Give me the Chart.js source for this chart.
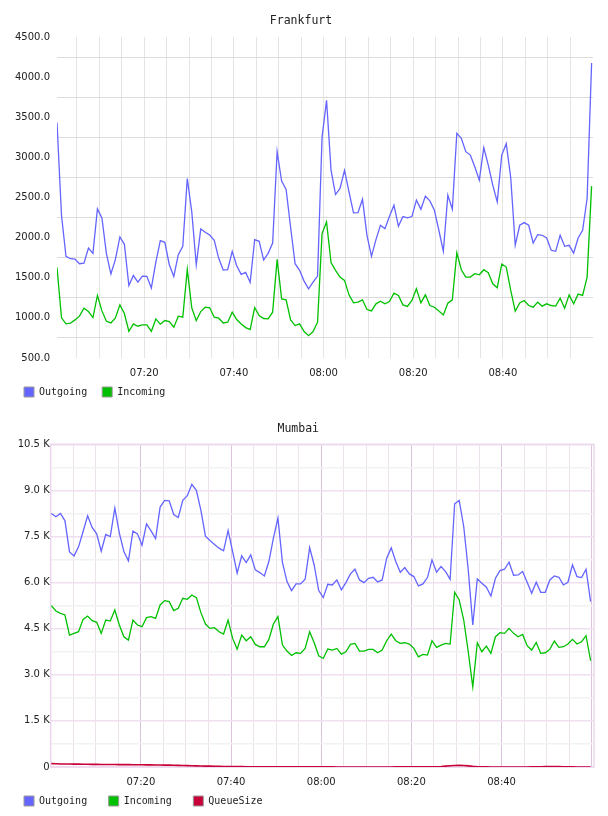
<!DOCTYPE html>
<html>
<head>
<meta charset="utf-8">
<script src="https://cdn.jsdelivr.net/npm/chart.js@4.4.1/dist/chart.umd.min.js"></script>
<style>
  body { margin: 0; background: #fff; }
  .box { position: absolute; left: 0; width: 608px; }
  #fraBox { top: 0; height: 407px; }
  #bomBox { top: 408px; height: 408px; }
</style>
</head>
<body>
<div class="box" id="fraBox"><canvas id="frankfurtChart"></canvas></div>
<div class="box" id="bomBox"><canvas id="mumbaiChart"></canvas></div>
<script>
// one sample per minute, starting just after 07:00
const fraOutgoing = [
  3433, 2279, 1767, 1737, 1733, 1675, 1683, 1871, 1804, 2358,
  2246, 1800, 1546, 1729, 2008, 1917, 1404, 1529, 1446, 1521,
  1517, 1371, 1696, 1963, 1942, 1662, 1517, 1788, 1892, 2737,
  2321, 1662, 2108, 2067, 2033, 1967, 1742, 1596, 1600, 1829,
  1650, 1542, 1567, 1442, 1975, 1954, 1721, 1804, 1933, 3071,
  2704, 2600, 2129, 1675, 1592, 1458, 1362, 1446, 1521, 3250,
  3712, 2842, 2537, 2612, 2837, 2571, 2308, 2312, 2479, 2029,
  1767, 1975, 2154, 2112, 2262, 2404, 2142, 2262, 2246, 2262,
  2467, 2354, 2517, 2458, 2342, 2092, 1829, 2529, 2354, 3300,
  3237, 3071, 3029, 2883, 2717, 3121, 2904, 2654, 2446, 3029,
  3171, 2746, 1904, 2154, 2187, 2154, 1933, 2037, 2029, 1996,
  1842, 1829, 2029, 1892, 1904, 1808, 1996, 2092, 2487, 4175
];
const fraIncoming = [
  1629, 1000, 925, 933, 975, 1021, 1121, 1079, 1004, 1279,
  1087, 958, 937, 1000, 1162, 1054, 833, 925, 896, 912,
  912, 833, 987, 921, 967, 954, 883, 1021, 1008, 1604,
  1125, 967, 1079, 1133, 1125, 1008, 996, 937, 946, 1071,
  979, 925, 879, 854, 1129, 1029, 992, 987, 1071, 1729,
  1237, 1225, 975, 904, 925, 829, 779, 829, 946, 2050,
  2196, 1688, 1592, 1508, 1467, 1287, 1187, 1196, 1225, 1104,
  1087, 1175, 1208, 1175, 1204, 1308, 1279, 1162, 1142, 1217,
  1362, 1187, 1287, 1154, 1133, 1087, 1037, 1183, 1225, 1812,
  1600, 1508, 1508, 1550, 1537, 1600, 1562, 1425, 1375, 1671,
  1633, 1342, 1083, 1187, 1217, 1154, 1133, 1196, 1146, 1175,
  1154, 1146, 1246, 1121, 1287, 1175, 1296, 1279, 1508, 2642
];
const bomOutgoing = [
  8250, 8141, 8250, 8011, 7000, 6869, 7163, 7663, 8174, 7793,
  7587, 7022, 7565, 7500, 8424, 7609, 7011, 6706, 7674, 7587,
  7217, 7913, 7685, 7435, 8457, 8674, 8663, 8217, 8120, 8674,
  8826, 9196, 9000, 8348, 7511, 7370, 7239, 7120, 7033, 7696,
  7011, 6304, 6869, 6652, 6902, 6413, 6326, 6217, 6685, 7446,
  8098, 6652, 6033, 5739, 5957, 5957, 6109, 7141, 6565, 5739,
  5511, 5946, 5924, 6087, 5761, 6000, 6283, 6435, 6087, 6000,
  6141, 6174, 6022, 6087, 6793, 7130, 6685, 6337, 6489, 6283,
  6196, 5891, 5957, 6163, 6739, 6337, 6522, 6359, 6109, 8565,
  8674, 7826, 6413, 4619, 6120, 5978, 5848, 5565, 6141, 6391,
  6435, 6663, 6239, 6250, 6359, 6011, 5652, 6011, 5685, 5685,
  6087, 6217, 6174, 5924, 6011, 6576, 6196, 6163, 6435, 5380
];
const bomIncoming = [
  5250, 5076, 5000, 4946, 4293, 4348, 4402, 4804, 4913, 4761,
  4707, 4348, 4783, 4750, 5109, 4620, 4239, 4130, 4783, 4620,
  4565, 4859, 4891, 4837, 5272, 5413, 5380, 5087, 5163, 5489,
  5457, 5598, 5511, 5022, 4652, 4511, 4533, 4402, 4326, 4783,
  4185, 3837, 4293, 4109, 4239, 3989, 3913, 3913, 4152, 4652,
  4891, 3967, 3772, 3630, 3717, 3696, 3859, 4402, 4043, 3620,
  3532, 3837, 3804, 3859, 3674, 3750, 3989, 4022, 3772, 3772,
  3826, 3826, 3717, 3804, 4109, 4326, 4109, 4022, 4043, 4000,
  3859, 3587, 3663, 3641, 4109, 3891, 3967, 4022, 4000, 5685,
  5435, 4783, 3750, 2609, 4043, 3750, 3935, 3696, 4239, 4370,
  4348, 4511, 4348, 4239, 4315, 3946, 3804, 4054, 3696, 3717,
  3826, 4098, 3891, 3913, 4000, 4152, 4000, 4076, 4272, 3457
];
const bomQueueSize = [
  110, 105, 100, 98, 96, 94, 92, 90, 88, 86,
  85, 83, 82, 80, 79, 78, 77, 76, 75, 74,
  72, 70, 68, 66, 64, 62, 60, 57, 54, 50,
  46, 42, 38, 34, 30, 27, 24, 21, 18, 16,
  14, 12, 11, 10, 9, 8, 8, 7, 7, 6,
  6, 5, 5, 5, 4, 4, 4, 4, 3, 3,
  3, 3, 3, 2, 2, 2, 2, 2, 2, 2,
  2, 2, 2, 2, 2, 2, 3, 4, 6, 8,
  3, 3, 3, 4, 5, 8, 15, 28, 40, 50,
  55, 50, 38, 22, 10, 5, 3, 2, 2, 2,
  2, 2, 2, 2, 2, 2, 3, 5, 8, 12,
  15, 14, 12, 8, 5, 3, 2, 2, 2, 2
];

// tick labels (x in minutes after 07:00)
const timeTicks = [20, 40, 60, 80, 100];
const timeLabels = ['07:20', '07:40', '08:00', '08:20', '08:40'];
const fraYTicks = [500, 1000, 1500, 2000, 2500, 3000, 3500, 4000, 4500];
const fraYLabels = ['500.0', '1000.0', '1500.0', '2000.0', '2500.0', '3000.0', '3500.0', '4000.0', '4500.0'];
const bomYTicks = [0, 1500, 3000, 4500, 6000, 7500, 9000, 10500];
const bomYLabels = ['0', '1.5 K', '3.0 K', '4.5 K', '6.0 K', '7.5 K', '9.0 K', '10.5 K'];

const BLUE = '#6464ff';
const GREEN = '#00c000';
const RED = '#c8003a';

Chart.defaults.font.family = 'DejaVu Sans';
Chart.defaults.font.size = 10;
Chart.defaults.color = '#222';
Chart.defaults.animation = false;

function toPoints(values, start, step) {
    return values.map((v, i) => ({ x: start + i * step, y: v }));
}

function stepsBetween(from, to, step) {
    const out = [];
    for (let v = from; v <= to + 1e-9; v += step) out.push({ value: v });
    return out;
}

function pick(ticks, labels) {
    return v => {
        const i = ticks.indexOf(v);
        return i < 0 ? '' : labels[i];
    };
}

const plotBorder = {
    id: 'plotBorder',
    beforeDatasetsDraw(chart, args, opts) {
        if (!opts.color) return;
        const { ctx, chartArea: a } = chart;
        ctx.save();
        ctx.strokeStyle = opts.color;
        ctx.lineWidth = 1.5;
        ctx.strokeRect(a.left, a.top, a.right - a.left, a.bottom - a.top);
        ctx.restore();
    }
};

function legendItems(chart) {
    return Chart.defaults.plugins.legend.labels.generateLabels(chart).map(item =>
        Object.assign(item, { strokeStyle: '#999', lineWidth: 1 }));
}

function line(label, values, color, start, step) {
    return {
        label: label,
        data: toPoints(values, start, step),
        borderColor: color,
        backgroundColor: color,
        borderWidth: 1.3,
        pointRadius: 0,
        tension: 0,
        fill: false
    };
}

// x labels: mirror turns off the clip to the (thin) axis box,
// the negative padding puts them back below the plot
const timeTickOpts = {
    autoSkip: false,
    maxRotation: 0,
    mirror: true,
    padding: -21,
    callback: pick(timeTicks, timeLabels)
};

// Frankfurt
new Chart(document.getElementById('frankfurtChart'), {
    type: 'line',
    data: {
        datasets: [
            line('Outgoing', fraOutgoing, BLUE, 0.55, 1.002),
            line('Incoming', fraIncoming, GREEN, 0.55, 1.002)
        ]
    },
    options: {
        responsive: true,
        maintainAspectRatio: false,
        events: [],
        layout: { padding: { left: 9, right: 15, top: 0, bottom: 0 } },
        scales: {
            x: {
                type: 'linear',
                min: 0.55,
                max: 120.1,
                afterBuildTicks: axis => { axis.ticks = stepsBetween(5, 115, 5); },
                afterFit: axis => { axis.height = 14; },
                border: { display: false },
                grid: { drawTicks: false, color: '#e4e4e4', lineWidth: 1 },
                ticks: timeTickOpts
            },
            y: {
                min: 500,
                max: 4500,
                afterBuildTicks: axis => { axis.ticks = stepsBetween(500, 4500, 250); },
                afterFit: axis => { axis.width = 48; },
                border: { display: false },
                grid: {
                    drawTicks: false,
                    lineWidth: 1,
                    color: c => (c.tick && c.tick.value % 500 === 0) ? 'rgba(0,0,0,0)' : '#dcdcdc'
                },
                ticks: { autoSkip: false, padding: 7, callback: pick(fraYTicks, fraYLabels) }
            }
        },
        plugins: {
            title: {
                display: true,
                text: 'Frankfurt',
                color: '#222',
                font: { family: 'DejaVu Sans Mono', size: 11.5, weight: 'normal' },
                padding: { top: 14, bottom: 9.2 }
            },
            legend: {
                position: 'bottom',
                align: 'start',
                labels: {
                    boxWidth: 10,
                    boxHeight: 10,
                    padding: 15,
                    color: '#222',
                    font: { family: 'DejaVu Sans Mono', size: 10 },
                    generateLabels: legendItems
                }
            },
            tooltip: { enabled: false }
        }
    }
});

// Mumbai
new Chart(document.getElementById('mumbaiChart'), {
    type: 'line',
    data: {
        datasets: [
            line('Outgoing', bomOutgoing, BLUE, 0.15, 1.005),
            line('Incoming', bomIncoming, GREEN, 0.15, 1.005),
            Object.assign(line('QueueSize', bomQueueSize, RED, 0.15, 1.005), { borderWidth: 1.6 })
        ]
    },
    plugins: [plotBorder],
    options: {
        responsive: true,
        maintainAspectRatio: false,
        events: [],
        layout: { padding: { left: 2.5, right: 14, top: 0, bottom: 0 } },
        scales: {
            x: {
                type: 'linear',
                min: 0,
                max: 120.5,
                afterBuildTicks: axis => { axis.ticks = stepsBetween(0, 120, 5); },
                afterFit: axis => { axis.height = 7.5; },
                border: { display: false },
                grid: {
                    drawTicks: false,
                    lineWidth: 1,
                    color: c => (c.tick && c.tick.value % 20 === 0) ? '#dcc2dc' : '#ebe2eb'
                },
                ticks: timeTickOpts
            },
            y: {
                min: 0,
                max: 10500,
                afterBuildTicks: axis => { axis.ticks = stepsBetween(0, 10500, 750); },
                afterFit: axis => { axis.width = 48.2; },
                border: { display: false },
                grid: {
                    drawTicks: false,
                    lineWidth: 1.5,
                    color: c => (c.tick && c.tick.value % 1500 === 0) ? '#f0dff0' : '#f2f2f2'
                },
                ticks: { autoSkip: false, padding: 1, callback: pick(bomYTicks, bomYLabels) }
            }
        },
        plugins: {
            plotBorder: { color: '#ecd8ec' },
            title: {
                display: true,
                text: 'Mumbai',
                color: '#222',
                font: { family: 'DejaVu Sans Mono', size: 11.5, weight: 'normal' },
                padding: { top: 14.1, bottom: 8.4 }
            },
            legend: {
                position: 'bottom',
                align: 'start',
                labels: {
                    boxWidth: 10,
                    boxHeight: 10,
                    padding: 21.5,
                    color: '#222',
                    font: { family: 'DejaVu Sans Mono', size: 10 },
                    generateLabels: legendItems
                }
            },
            tooltip: { enabled: false }
        }
    }
});
</script>
</body>
</html>
